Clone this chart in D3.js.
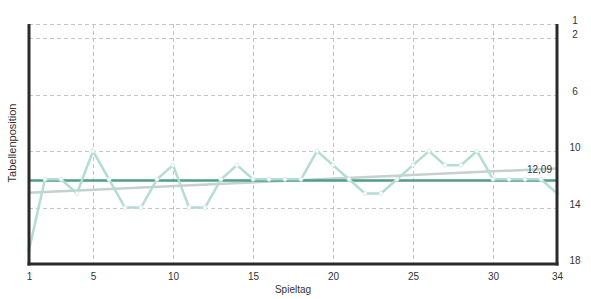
<!DOCTYPE html>
<html>
<head>
<meta charset="utf-8">
<script src="https://cdnjs.cloudflare.com/ajax/libs/d3/7.8.5/d3.min.js"></script>
<style>
  body { margin: 0; background: #fff; }
  text { font-family: "Liberation Sans", Arial, sans-serif; fill: #333; }
</style>
</head>
<body>
<div id="display"></div>
<script>
// matchdays and league position per matchday
const spieltage = d3.range(1, 35);
const positionen = [17, 12, 12, 13, 10, 12, 14, 14, 12, 11, 14, 14, 12, 11, 12, 12, 12,
    12, 10, 11, 12, 13, 13, 12, 11, 10, 11, 11, 10, 12, 12, 12, 12, 13];
const xTicks = [1, 5, 10, 15, 20, 25, 30, 34];
const yTicks = [1, 2, 6, 10, 14, 18];

const W = 591, H = 299;
const margin = {top: 24, right: 34, bottom: 35, left: 29};
const width = W - margin.left - margin.right;
const height = H - margin.top - margin.bottom;

const svg = d3.select('#display')
    .append('svg')
        .attr('width', W)
        .attr('height', H)
    .append('g')
        .attr('transform', 'translate(' + margin.left + ',' + margin.top + ')');

const x = d3.scaleLinear().domain([1, 34]).range([0, width]);
const y = d3.scaleLinear().domain([1, 18]).range([0, height]);

const data = spieltage.map((d, i) => ({tag: d, pos: positionen[i]}));

// average and linear trend from the data
const mean = d3.mean(positionen);
const mx = d3.mean(spieltage);
const slope = d3.sum(data, d => (d.tag - mx) * (d.pos - mean)) /
    d3.sum(data, d => (d.tag - mx) * (d.tag - mx));
const trend = t => mean + slope * (t - mx);

// grid
svg.append('g')
    .selectAll('line')
    .data(yTicks.filter(t => t !== 18))
    .join('line')
        .attr('x1', 0).attr('x2', width)
        .attr('y1', d => Math.round(y(d)) + 0.5).attr('y2', d => Math.round(y(d)) + 0.5)
        .attr('stroke', '#c4c4c4')
        .attr('stroke-dasharray', '4,3');
svg.append('g')
    .selectAll('line')
    .data(xTicks.filter(t => t !== 1 && t !== 34))
    .join('line')
        .attr('x1', d => Math.round(x(d)) + 0.5).attr('x2', d => Math.round(x(d)) + 0.5)
        .attr('y1', 0).attr('y2', height)
        .attr('stroke', '#c4c4c4')
        .attr('stroke-dasharray', '4,3');

// trend line
svg.append('line')
    .attr('x1', x(1)).attr('x2', x(34))
    .attr('y1', y(trend(1))).attr('y2', y(trend(34)))
    .attr('stroke', '#c5d1cf')
    .attr('stroke-width', 2.5);

// average line
svg.append('line')
    .attr('x1', 0).attr('x2', width)
    .attr('y1', y(mean)).attr('y2', y(mean))
    .attr('stroke', '#4f9c8b')
    .attr('stroke-width', 2.5);

svg.append('text')
    .attr('x', x(34) - 5)
    .attr('y', y(trend(34)) + 5)
    .attr('text-anchor', 'end')
    .attr('font-size', 10)
    .text(d3.format('.2f')(mean).replace('.', ','));

// position line
svg.append('path')
    .datum(data)
    .attr('fill', 'none')
    .attr('stroke', '#b3ddd4')
    .attr('stroke-width', 2.5)
    .attr('d', d3.line().x(d => x(d.tag)).y(d => y(d.pos)));

svg.append('g')
    .selectAll('circle')
    .data(data)
    .join('circle')
        .attr('cx', d => x(d.tag))
        .attr('cy', d => y(d.pos))
        .attr('r', 2)
        .attr('fill', '#fff')
        .attr('stroke', '#cfe9e3')
        .attr('stroke-width', 0.8);

// axes
const frame = svg.append('g').attr('stroke', '#2a2a2a').attr('stroke-width', 3);
frame.append('line').attr('x1', 0).attr('x2', 0).attr('y1', 0).attr('y2', height + 1.5);
frame.append('line').attr('x1', width).attr('x2', width).attr('y1', 0).attr('y2', height + 1.5);
frame.append('line').attr('x1', -1.5).attr('x2', width + 1.5).attr('y1', height).attr('y2', height);

const xAxis = svg.append('g')
    .attr('transform', 'translate(0,' + height + ')')
    .call(d3.axisBottom(x).tickValues(xTicks).tickSize(0).tickPadding(9));
xAxis.select('.domain').remove();
xAxis.selectAll('text').attr('font-size', 10).attr('fill', '#333');

const yAxis = svg.append('g')
    .attr('transform', 'translate(' + width + ',0)')
    .call(d3.axisRight(y).tickValues(yTicks).tickSize(0).tickPadding(18));
yAxis.select('.domain').remove();
yAxis.selectAll('text').attr('font-size', 10).attr('fill', '#333')
    .attr('text-anchor', 'middle').attr('dy', '-0.05em');

svg.append('text')
    .attr('x', width / 2)
    .attr('y', height + 29)
    .attr('text-anchor', 'middle')
    .attr('font-size', 10)
    .text('Spieltag');

svg.append('text')
    .attr('transform', 'translate(-13,' + (height / 2 - 1) + ') rotate(-90)')
    .attr('text-anchor', 'middle')
    .attr('font-size', 11)
    .text('Tabellenposition');
</script>
</body>
</html>
